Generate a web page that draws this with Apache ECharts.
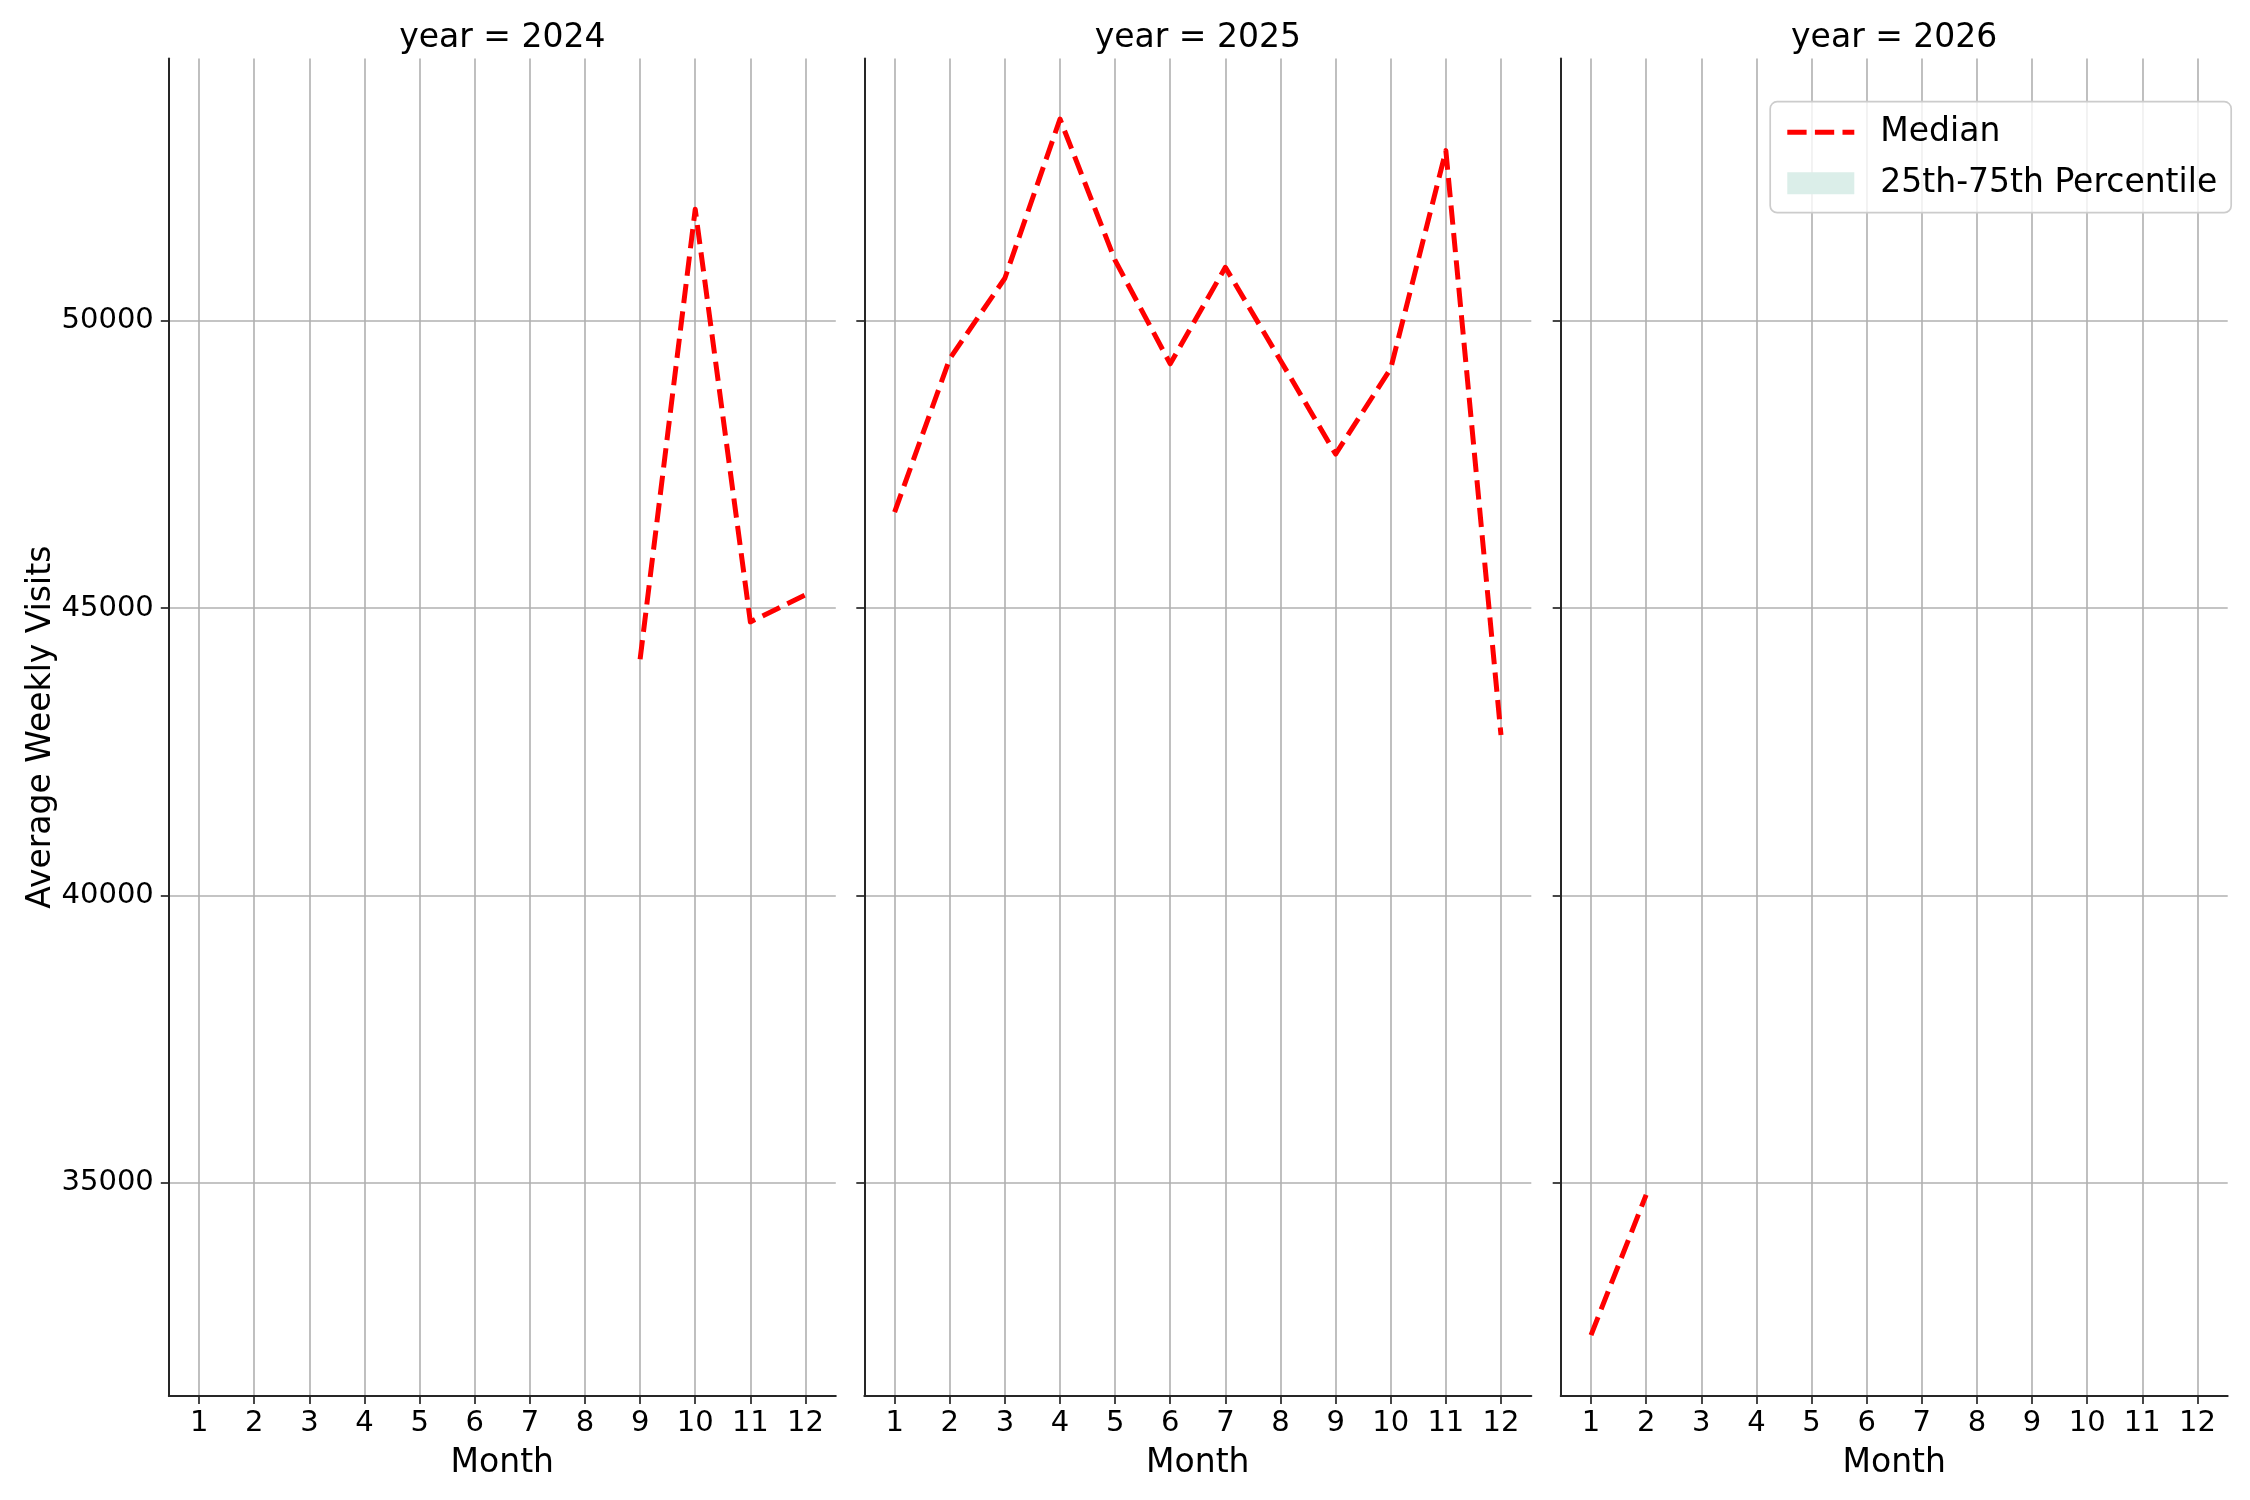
<!DOCTYPE html>
<html><head><meta charset="utf-8">
<script src="https://cdn.jsdelivr.net/npm/echarts@6/dist/echarts.min.js"></script>
<style>html,body{margin:0;padding:0;background:#fff}#chart{width:2250px;height:1500px}</style>
</head><body><div id="chart"></div>
<script>
// ---- data ----
const years = [2024, 2025, 2026];
const monthTicks = [1, 2, 3, 4, 5, 6, 7, 8, 9, 10, 11, 12];
const valueTicks = [35000, 40000, 45000, 50000];
const months2024 = [9, 10, 11, 12];
const median2024 = [44110, 51940, 44760, 45230];
const months2025 = [1, 2, 3, 4, 5, 6, 7, 8, 9, 10, 11, 12];
const median2025 = [46670, 49340, 50740, 53510, 51050, 49250, 50930, 49310, 47680, 49170, 52960, 42790];
const months2026 = [1, 2];
const median2026 = [32350, 34790];
const percentileEmpty = [];   // percentile band has no visible extent in the reference

// ---- layout / style ----
const FONT = 'DejaVu Sans';
const gridLefts = [168.8, 864.3, 1560.7];
const gridW = 667, gridTop = 58.4, gridH = 1337.6;
const axisColor = '#262626', gridColor = '#b0b0b0';
const medianSets = [[months2024, median2024], [months2025, median2025], [months2026, median2026]];

const grids = [], xAxes = [], yAxes = [], series = [], titles = [];
years.forEach((yr, i) => {
  grids.push({left: gridLefts[i], top: gridTop, width: gridW, height: gridH, containLabel: false});
  titles.push({
    text: 'year = ' + yr, left: gridLefts[i] + gridW / 2, top: 22, textAlign: 'center', padding: 0,
    textStyle: {fontFamily: FONT, fontSize: 33, fontWeight: 'normal', color: '#000'}
  });
  xAxes.push({
    type: 'value', gridIndex: i, min: 0.45, max: 12.55,
    name: 'Month', nameLocation: 'middle', nameGap: 51,
    nameTextStyle: {fontFamily: FONT, fontSize: 33, color: '#000'},
    axisLine: {show: true, onZero: false, lineStyle: {color: axisColor, width: 2}},
    axisTick: {show: true, customValues: monthTicks, length: 8, lineStyle: {color: axisColor, width: 1.7}},
    axisLabel: {show: true, customValues: monthTicks, fontFamily: FONT, fontSize: 29, color: '#000', margin: 13},
    splitLine: {show: true, lineStyle: {color: gridColor, width: 1.6}}
  });
  yAxes.push({
    type: 'value', gridIndex: i, min: 31290, max: 54565,
    name: i === 0 ? 'Average Weekly Visits' : '', nameLocation: 'middle', nameGap: 110,
    nameTextStyle: {fontFamily: FONT, fontSize: 33, color: '#000'},
    axisLine: {show: true, onZero: false, lineStyle: {color: axisColor, width: 2}},
    axisTick: {show: true, customValues: valueTicks, length: 8, lineStyle: {color: axisColor, width: 1.7}},
    axisLabel: {show: i === 0, customValues: valueTicks, formatter: v => String(v),
      fontFamily: FONT, fontSize: 29, color: '#000', margin: 15},
    splitLine: {show: true, lineStyle: {color: gridColor, width: 1.6}}
  });
  const [ms, vs] = medianSets[i];
  series.push({
    type: 'line', name: 'Median', xAxisIndex: i, yAxisIndex: i,
    data: ms.map((m, k) => [m, vs[k]]),
    symbol: 'none', color: '#ff0000',
    lineStyle: {color: '#ff0000', width: 5, type: [19.3, 8.3], join: 'round'},
    z: 5
  });
});
series.push({
  type: 'line', name: '25th-75th Percentile', xAxisIndex: 2, yAxisIndex: 2,
  data: percentileEmpty, symbol: 'none', color: '#dbeee9', areaStyle: {color: '#dbeee9'}
});

const chart = echarts.init(document.getElementById('chart'), null, {renderer: 'canvas'});
chart.setOption({
  animation: false,
  backgroundColor: '#fff',
  title: titles,
  grid: grids, xAxis: xAxes, yAxis: yAxes, series: series,
  legend: {
    left: 1770.2, top: 101.7, orient: 'vertical',
    padding: [14, 14, 13, 14.6], itemGap: 18, itemWidth: 67, itemHeight: 22,
    backgroundColor: 'rgba(255,255,255,0.8)', borderColor: '#cccccc', borderWidth: 1.7, borderRadius: 7,
    textStyle: {fontFamily: FONT, fontSize: 33, color: '#000', padding: [0, 0, 0, 21]},
    data: [
      {name: 'Median', itemStyle: {opacity: 0},
       lineStyle: {color: '#ff0000', width: 5, type: [19.3, 8.3]}},
      {name: '25th-75th Percentile', icon: 'rect', itemStyle: {color: '#dbeee9'}}
    ]
  }
});
</script></body></html>
